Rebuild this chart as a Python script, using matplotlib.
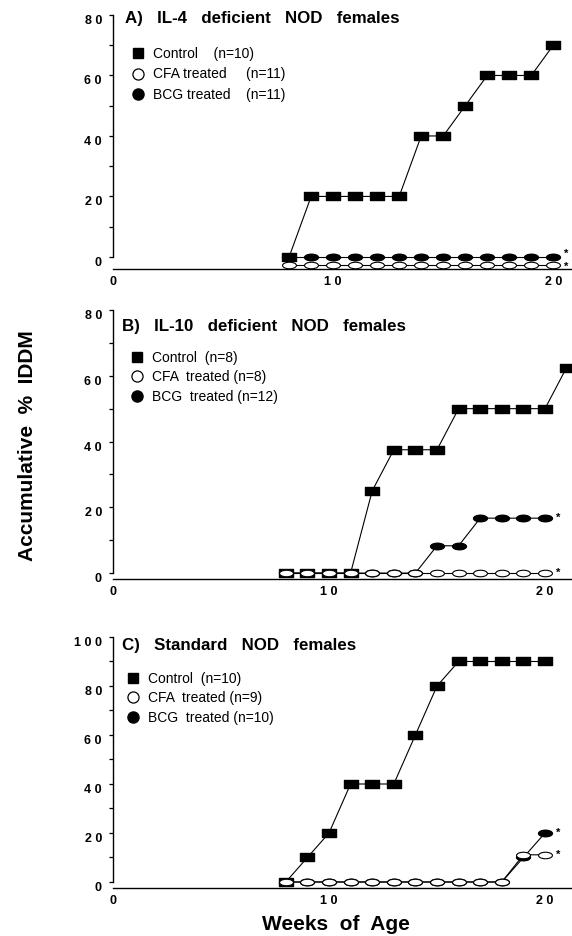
import matplotlib
matplotlib.use('Agg')
import matplotlib.pyplot as plt
from matplotlib.path import Path
from matplotlib.lines import Line2D
from matplotlib.transforms import Affine2D, offset_copy

plt.rcParams['font.family'] = ['Liberation Sans', 'DejaVu Sans']

# ---------------- data ----------------
weeks = [8, 9, 10, 11, 12, 13, 14, 15, 16, 17, 18, 19, 20]
weeks_b_control = [8, 9, 10, 11, 12, 13, 14, 15, 16, 17, 18, 19, 20, 21]

# Panel A: IL-4 deficient
a_control = [0, 20, 20, 20, 20, 20, 40, 40, 50, 60, 60, 60, 70]
a_cfa = [0, 0, 0, 0, 0, 0, 0, 0, 0, 0, 0, 0, 0]
a_bcg = [0, 0, 0, 0, 0, 0, 0, 0, 0, 0, 0, 0, 0]

# Panel B: IL-10 deficient
b_control = [0, 0, 0, 0, 25, 37.5, 37.5, 37.5, 50, 50, 50, 50, 50, 62.5]
b_cfa = [0, 0, 0, 0, 0, 0, 0, 0, 0, 0, 0, 0, 0]
b_bcg = [0, 0, 0, 0, 0, 0, 0, 8.3, 8.3, 16.7, 16.7, 16.7, 16.7]

# Panel C: standard NOD
c_control = [0, 10, 20, 40, 40, 40, 60, 80, 90, 90, 90, 90, 90]
c_cfa = [0, 0, 0, 0, 0, 0, 0, 0, 0, 0, 0, 11.1, 11.1]
c_bcg = [0, 0, 0, 0, 0, 0, 0, 0, 0, 0, 0, 10, 20]

titles = ["A)   IL-4   deficient   NOD   females",
          "B)   IL-10   deficient   NOD   females",
          "C)   Standard   NOD   females"]
legend_a = ["Control    (n=10)", "CFA treated     (n=11)", "BCG treated    (n=11)"]
legend_b = ["Control  (n=8)", "CFA  treated (n=8)", "BCG  treated (n=12)"]
legend_c = ["Control  (n=10)", "CFA  treated (n=9)", "BCG  treated (n=10)"]

yticks_80 = [0, 20, 40, 60, 80]
yticklabels_80 = ["0", "2 0", "4 0", "6 0", "8 0"]
yticks_100 = [0, 20, 40, 60, 80, 100]
yticklabels_100 = ["0", "2 0", "4 0", "6 0", "8 0", "1 0 0"]
xticks = [0, 10, 20]
xticklabels = ["0", "1 0", "2 0"]

# ---------------- figure ----------------
W, H = 572, 936
fig = plt.figure(figsize=(W / 100, H / 100), dpi=100)

rect_marker = Path([(-1, -0.5), (1, -0.5), (1, 0.5), (-1, 0.5), (-1, -0.5)],
                   [Path.MOVETO, Path.LINETO, Path.LINETO, Path.LINETO, Path.CLOSEPOLY])
ell_marker = Path.unit_circle().transformed(Affine2D().scale(1, 0.47))


def px_axes(left, right, top, bottom):
    return fig.add_axes([left / W, 1 - bottom / H, (right - left) / W, (bottom - top) / H])


def panel(ax, xmax, ymin, ymax, yt, ytl, ctrl_w, ctrl, cfa, bcg, title, title_xy,
          labels, leg_anchor, cfa_offset=0, star_dy=(0, 0), lspace=0.38):
    ax.set_xlim(0, xmax)
    ax.set_ylim(ymin, ymax)
    for s in ['top', 'right']:
        ax.spines[s].set_visible(False)
    ax.spines['left'].set_bounds(0, ymax)
    ax.spines['left'].set_linewidth(1.0)
    ax.spines['bottom'].set_linewidth(1.0)

    ax.plot(ctrl_w, ctrl, color='black', lw=0.8, marker=rect_marker, ms=10.5,
            mfc='black', mec='black', zorder=2, clip_on=False)
    ax.plot(weeks, bcg, color='black', lw=0.8, marker=ell_marker, ms=10,
            mfc='black', mec='black', zorder=3, clip_on=False)
    tr = ax.transData
    if cfa_offset:
        tr = offset_copy(ax.transData, fig=fig, x=0, y=cfa_offset, units='points')
    ax.plot(weeks, cfa, color='black', lw=0.8, marker=ell_marker, ms=10,
            mfc='white', mec='black', mew=0.8, zorder=4, clip_on=False, transform=tr)

    ax.annotate('*', xy=(weeks[-1], bcg[-1]), xytext=(8, star_dy[0]),
                textcoords='offset points', fontsize=8, va='center', ha='left',
                fontweight='bold')
    ax.annotate('*', xy=(weeks[-1], cfa[-1]), xycoords=tr, xytext=(8, star_dy[1]),
                textcoords='offset points', fontsize=8, va='center', ha='left',
                fontweight='bold')

    minor = [v + 10 for v in yt[:-1]]
    ax.set_yticks(yt, labels=ytl, fontweight='bold', fontsize=9, va='top')
    ax.set_yticks(minor, minor=True)
    ax.tick_params(axis='y', which='both', direction='out', length=3, width=0.9, pad=5)
    ax.set_xticks(xticks, labels=xticklabels, fontweight='bold', fontsize=9)
    ax.tick_params(axis='x', length=0, pad=5)

    ax.text(title_xy[0], title_xy[1], title, transform=ax.transAxes, fontsize=12.2,
            fontweight='bold', ha='left', va='center')

    handles = [Line2D([], [], ls='none', marker='s', ms=7.5, mfc='black', mec='black'),
               Line2D([], [], ls='none', marker='o', ms=8, mfc='white', mec='black', mew=0.9),
               Line2D([], [], ls='none', marker='o', ms=8, mfc='black', mec='black')]
    ax.legend(handles, labels, loc='upper left', bbox_to_anchor=leg_anchor, frameon=False,
              fontsize=10, handlelength=0.8, handletextpad=0.68, labelspacing=lspace,
              borderpad=0, borderaxespad=0)


# Panel A
axA = px_axes(113, 572, 15, 269)
panel(axA, 20.85, -4, 80, yticks_80, yticklabels_80, weeks, a_control, a_cfa, a_bcg,
      titles[0], (0.026, 0.988), legend_a, ((132.5 - 113) / 459, (269 - 47) / 254),
      cfa_offset=-5.5, star_dy=(2, -2), lspace=0.46)

# Panel B
axB = px_axes(113, 572, 310, 579)
panel(axB, 21.25, -1.8, 80, yticks_80, yticklabels_80, weeks_b_control, b_control,
      b_cfa, b_bcg, titles[1], (0.02, 0.937), legend_b,
      ((131.5 - 113) / 459, (579 - 351) / 269))

# Panel C
axC = px_axes(113, 572, 637, 888)
panel(axC, 21.25, -2.45, 100, yticks_100, yticklabels_100, weeks, c_control, c_cfa,
      c_bcg, titles[2], (0.02, 0.968), legend_c,
      ((127.5 - 113) / 459, (888 - 672) / 251))

fig.text(28 / W, 1 - 446 / H, "Accumulative  %  IDDM", rotation=90, fontsize=15,
         fontweight='bold', ha='center', va='center')
fig.text(336 / W, 1 - 925 / H, "Weeks  of  Age", fontsize=15, fontweight='bold',
         ha='center', va='center')

fig.savefig('out.png', dpi=100)
